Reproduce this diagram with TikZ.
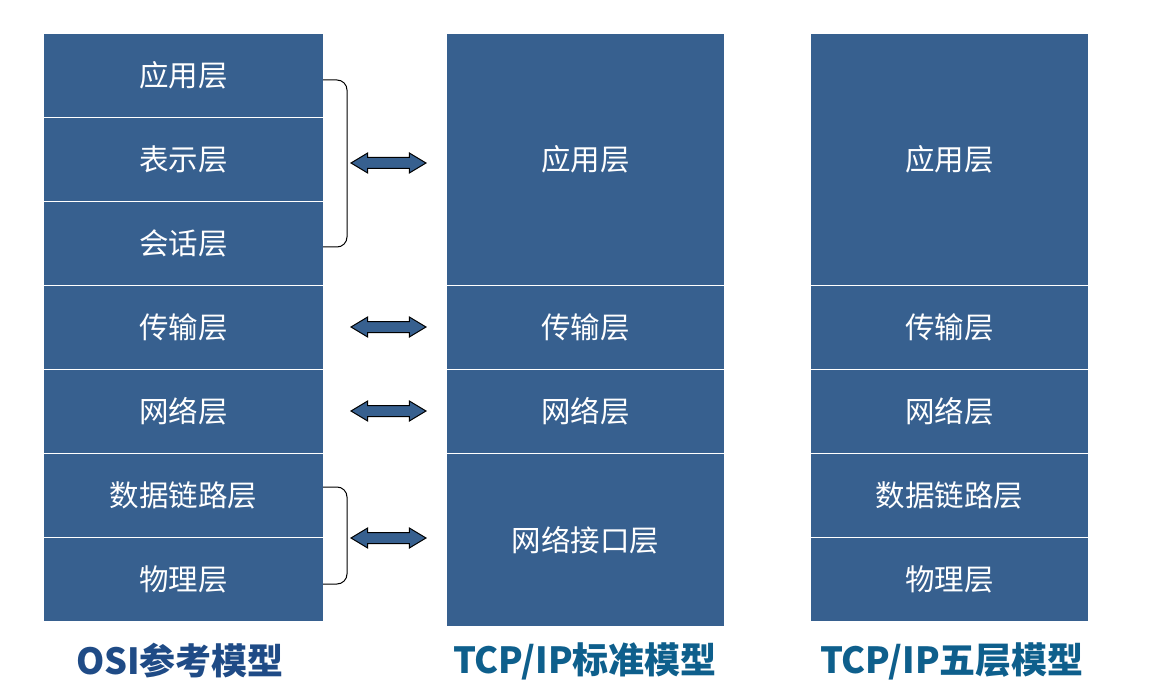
\documentclass[tikz,border=0pt]{standalone}
\usepackage{fontspec}
\setmainfont{Noto Sans CJK SC}
\usetikzlibrary{shapes.arrows}
\definecolor{boxblue}{HTML}{37608F}
\definecolor{osititle}{HTML}{1F4B86}
\definecolor{tcptitle}{HTML}{0E5F8C}
\tikzset{
  layer/.style={fill=boxblue, draw=white, line width=1pt, inner sep=0pt,
    text=white, font=\fontsize{29.5}{33}\selectfont, anchor=north west},
  dblarrow/.style={double arrow, fill=boxblue, draw=black, line width=1pt,
    inner xsep=0pt, inner ysep=5pt, minimum width=0pt, minimum height=75pt,
    double arrow head extend=4.5pt, double arrow tip angle=62},
  brace/.style={draw=black, line width=1pt, rounded corners=10pt},
  title/.style={font=\fontsize{36}{40}\selectfont\bfseries}
}
\begin{document}
\begin{tikzpicture}[x=1pt,y=-1pt]
\useasboundingbox (0,0) rectangle (1149,687);
% OSI column
\node[layer, minimum width=280pt, minimum height=84pt] (o1) at (43,33) {应用层};
\node[layer, minimum width=280pt, minimum height=84pt] (o2) at (43,117) {表示层};
\node[layer, minimum width=280pt, minimum height=84pt] (o3) at (43,201) {会话层};
\node[layer, minimum width=280pt, minimum height=84pt] (o4) at (43,285) {传输层};
\node[layer, minimum width=280pt, minimum height=84pt] (o5) at (43,369) {网络层};
\node[layer, minimum width=280pt, minimum height=84pt] (o6) at (43,453) {数据链路层};
\node[layer, minimum width=280pt, minimum height=84pt] (o7) at (43,537) {物理层};
% TCP/IP standard
\node[layer, minimum width=278pt, minimum height=252pt] (t1) at (446,33) {应用层};
\node[layer, minimum width=278pt, minimum height=84pt] (t2) at (446,285) {传输层};
\node[layer, minimum width=278pt, minimum height=84pt] (t3) at (446,369) {网络层};
\node[layer, minimum width=278pt, minimum height=173pt] (t4) at (446,453) {网络接口层};
% TCP/IP five
\node[layer, minimum width=278pt, minimum height=252pt] (f1) at (810,33) {应用层};
\node[layer, minimum width=278pt, minimum height=84pt] (f2) at (810,285) {传输层};
\node[layer, minimum width=278pt, minimum height=84pt] (f3) at (810,369) {网络层};
\node[layer, minimum width=278pt, minimum height=84pt] (f4) at (810,453) {数据链路层};
\node[layer, minimum width=278pt, minimum height=84pt] (f5) at (810,537) {物理层};
% braces
\coordinate (b1t) at (323,80);
\coordinate (b1b) at (323,247);
\coordinate (b2t) at (323,487);
\coordinate (b2b) at (323,584);
\draw[brace] (b1t) -- (347,80) -- (347,247) -- (b1b);
\draw[brace] (b2t) -- (347,487) -- (347,584) -- (b2b);
% arrows
\node[dblarrow] (a1) at (388.5,163) {};
\node[dblarrow] (a2) at (388.5,327) {};
\node[dblarrow] (a3) at (388.5,411) {};
\node[dblarrow] (a4) at (388.5,538) {};
% titles
\node[title, text=osititle] (ot) at (180,661) {OSI参考模型};
\node[title, text=tcptitle] (tt) at (585,661) {TCP/IP标准模型};
\node[title, text=tcptitle] (ft) at (952,661) {TCP/IP五层模型};
\end{tikzpicture}
\end{document}
